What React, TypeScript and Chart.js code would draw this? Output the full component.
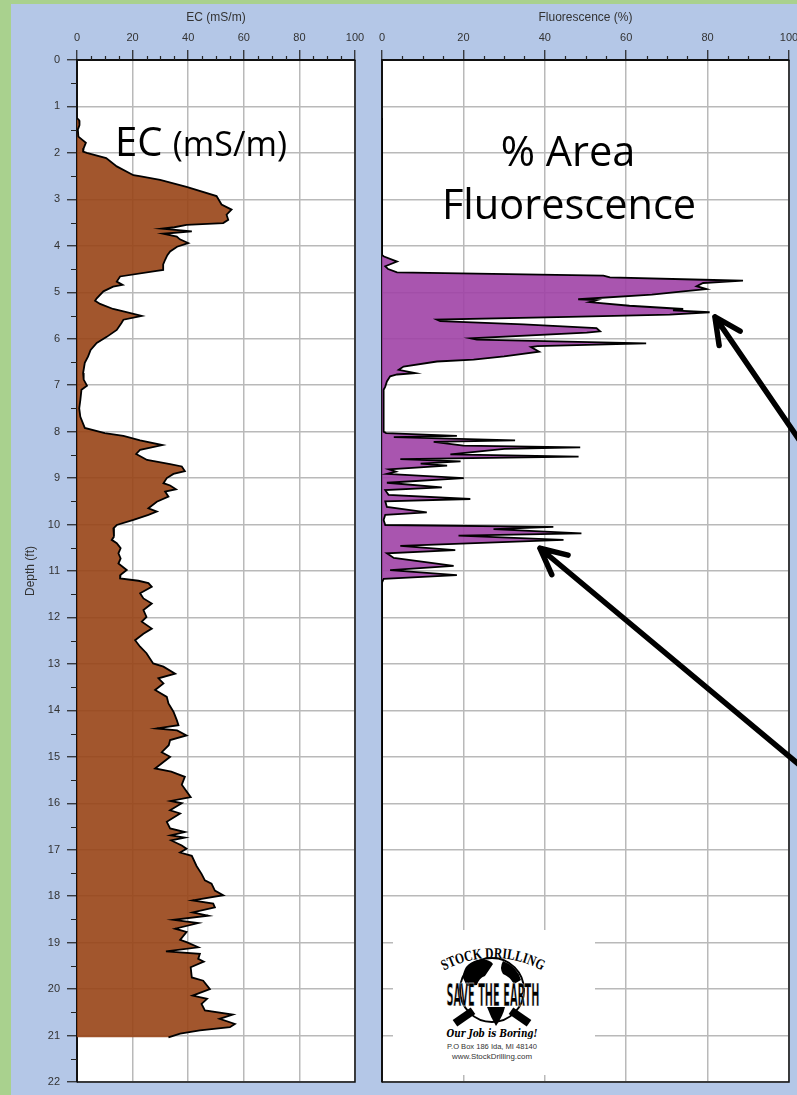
import React, { useEffect, useRef } from 'react';
import { Chart, registerables } from 'chart.js';

Chart.register(...registerables);

// ---------- data ----------
const ecDepth = [
  1.25, 1.3, 1.4, 1.5, 1.65, 1.78, 1.9, 1.97, 2.0, 2.11, 2.29, 2.48, 2.5, 2.58, 2.73, 2.93, 3.11, 3.22, 3.33, 3.44,
  3.51, 3.55, 3.6, 3.63, 3.69, 3.74, 3.8, 3.86, 3.94, 4.02, 4.12, 4.2, 4.3, 4.4, 4.52, 4.54, 4.66, 4.77, 4.84, 4.88,
  4.98, 5.13, 5.18, 5.25, 5.36, 5.41, 5.51, 5.59, 5.66, 5.81, 5.96, 6.09, 6.24, 6.38, 6.52, 6.74, 6.88, 7.01, 7.1, 7.32,
  7.5, 7.68, 7.92, 8.03, 8.09, 8.19, 8.29, 8.39, 8.48, 8.61, 8.7, 8.75, 8.85, 8.91, 9.0, 9.11, 9.16, 9.24, 9.29, 9.4,
  9.51, 9.65, 9.72, 9.79, 9.9, 10.01, 10.08, 10.26, 10.33, 10.4, 10.51, 10.62, 10.73, 10.84, 10.98, 11.08, 11.16, 11.21, 11.26, 11.34,
  11.48, 11.59, 11.7, 11.84, 11.99, 12.09, 12.24, 12.35, 12.49, 12.63, 12.77, 12.99, 13.06, 13.21, 13.31, 13.42, 13.56, 13.71, 13.85, 14.03,
  14.21, 14.32, 14.39, 14.43, 14.54, 14.64, 14.75, 14.9, 15.0, 15.25, 15.32, 15.43, 15.6, 15.87, 15.95, 16.0, 16.15, 16.22, 16.4, 16.54,
  16.62, 16.69, 16.74, 16.8, 16.91, 16.98, 17.06, 17.13, 17.35, 17.52, 17.66, 17.73, 17.88, 17.98, 18.09, 18.16, 18.24, 18.35, 18.42, 18.51,
  18.58, 18.7, 18.77, 18.94, 18.99, 19.1, 19.19, 19.24, 19.35, 19.41, 19.53, 19.75, 19.82, 20.0, 20.14, 20.21, 20.32, 20.46, 20.55, 20.64,
  20.75, 20.82, 20.89, 20.96, 21.04,
];
const ecValue = [
  0, 0.8, 0.9, 0.3, 0.5, 3.2, 2.4, 2.2, 3.5, 10.5, 14.3, 20.3, 22.5, 29.9, 39.4, 50.2, 52, 55.6, 53.8, 54.4,
  52.6, 39.4, 35, 30.5, 41.3, 31, 35.9, 37, 40, 36, 33.5, 32.5, 31.7, 31, 31, 28.7, 15.5, 14.3, 16.4, 13,
  9.5, 7.1, 6.5, 8.3, 13, 16.7, 23.3, 16.7, 16, 14.3, 10.7, 7.1, 4.9, 4, 2.8, 2.2, 2.4, 3.6, 1.6, 1.2,
  0.8, 1.2, 2.8, 10, 16.7, 22.7, 30.7, 22.7, 21.3, 25.2, 33.5, 37.7, 38.8, 34.7, 32.3, 31.1, 33.5, 35.6, 31.7, 32.9,
  28.7, 25.7, 28.7, 25.7, 20.3, 14.3, 13.1, 13.3, 12.5, 14.3, 15.7, 14.9, 15.7, 14.9, 17.9, 15.7, 15.5, 22.1, 25.7, 26.9,
  22.7, 23.9, 26.9, 23.9, 25, 23.3, 26.9, 23.9, 20.9, 22.7, 25, 27.4, 31.1, 35.3, 29.3, 31.1, 28.1, 32.3, 32.9, 34.7,
  35.9, 36.5, 28.7, 36, 39.4, 33.5, 33, 30.5, 33.5, 28.1, 33.9, 38.8, 37.7, 40.9, 33.7, 37.7, 33.5, 37.1, 32.3, 33.5,
  38.8, 33.7, 38.8, 33.9, 37.7, 39.4, 37.1, 41.3, 43, 44.8, 46, 48.4, 49.6, 52.6, 41.6, 49, 49.6, 41.6, 47.2, 34.7,
  43.6, 35.3, 39.4, 37.1, 39.4, 43.6, 32, 44.2, 43.6, 45.6, 40.9, 41.3, 45.4, 47.8, 41.6, 46.8, 44.8, 46, 56, 51.3,
  56.8, 55, 44.2, 37.1, 32.9,
];

const flDepth = [
  1.25, 4.2, 4.23, 4.34, 4.44, 4.5, 4.57, 4.64, 4.68, 4.73, 4.75, 4.8, 4.87, 4.93, 4.98, 5.05, 5.15, 5.17, 5.21, 5.29,
  5.36, 5.39, 5.43, 5.48, 5.53, 5.59, 5.62, 5.69, 5.77, 5.84, 5.87, 5.99, 6.02, 6.1, 6.16, 6.18, 6.28, 6.38, 6.45, 6.49,
  6.6, 6.67, 6.74, 6.77, 6.81, 6.92, 7.03, 7.1, 7.5, 8.0, 8.03, 8.09, 8.12, 8.19, 8.22, 8.3, 8.34, 8.37, 8.49, 8.54,
  8.59, 8.64, 8.69, 8.73, 8.81, 8.86, 8.91, 9.0, 9.1, 9.2, 9.26, 9.36, 9.45, 9.5, 9.62, 9.74, 9.79, 9.9, 10.01, 10.05,
  10.1, 10.19, 10.24, 10.33, 10.46, 10.55, 10.62, 10.72, 10.89, 10.98, 11.09, 11.17, 11.25, 21.05,
];
const flValue = [
  0, 0, 0.5, 3.7, 0.8, 1.5, 3.7, 54.4, 56, 78.9, 88.7, 78.9, 77.3, 79.7, 74, 66.3, 48.2, 52.7, 51, 60.8,
  74, 71.5, 80.5, 70.7, 46, 13.5, 14.3, 34.8, 52.7, 53.6, 50.3, 21.7, 23.3, 64.9, 38.2, 36.6, 38.6, 30, 22.5, 13.5,
  5.3, 4.1, 8.2, 3.7, 2, 1.2, 0.8, 0.4, 0.4, 0.4, 1, 18.4, 2.9, 32.7, 12.7, 20, 48.7, 30.1, 16.8, 48.3,
  4.5, 19.3, 9.5, 16, 1.7, 3.4, 1.2, 20.1, 1.2, 14.7, 0.8, 1.6, 21.7, 0.8, 1.2, 11, 0.8, 0.4, 0.8, 42.1,
  27.4, 49, 18.8, 44.6, 4.5, 18, 1.2, 2.9, 17.6, 2, 18.4, 0.4, 0, 0,
];

const xMin = 0;
const xMax = 100;
const xMajorStep = 20;
const xMinorStep = 5;
const depthMin = 0;
const depthMax = 22;
const depthMajorStep = 1;
const depthMinorStep = 0.5;

// arrows: tip points (fluorescence %, depth ft) and tail points beyond the panel
const arrowTipX = [81.8, 38.8];
const arrowTipY = [5.53, 10.51];
const arrowTailX = [104, 104];
const arrowTailY = [8.37, 15.28];

// ---------- styles ----------
const FONT = '"Liberation Sans", Arial, sans-serif';
const GRID = '#b9b9b9';
const TEXT = '#333333';
const AXIS = '#111111';
const EC_FILL = 'rgba(152,68,22,0.9)';
const FL_FILL = 'rgba(160,67,166,0.9)';

const toPoints = (ds: number[], vs: number[]) => ds.map((d, i) => ({ x: vs[i], y: d }));

const range = (a: number, b: number, s: number) => {
  const out: number[] = [];
  for (let v = a; v <= b + 1e-9; v += s) out.push(Math.round(v * 1000) / 1000);
  return out;
};

const whiteArea = {
  id: 'whiteArea',
  beforeDraw(chart: any) {
    const { ctx, chartArea: a } = chart;
    ctx.save();
    ctx.fillStyle = '#ffffff';
    ctx.fillRect(a.left, a.top, a.right - a.left, a.bottom - a.top);
    ctx.restore();
  },
};

const makeFrame = (withYMinor: boolean) => ({
  id: 'frameMinor',
  afterDatasetsDraw(chart: any) {
    const { ctx, chartArea: a, scales } = chart;
    ctx.save();
    ctx.strokeStyle = AXIS;
    ctx.lineWidth = 1.5;
    ctx.beginPath();
    ctx.moveTo(a.right, a.top);
    ctx.lineTo(a.right, a.bottom);
    ctx.lineTo(a.left, a.bottom);
    ctx.stroke();
    ctx.lineWidth = 1.2;
    ctx.strokeStyle = '#222';
    ctx.beginPath();
    range(xMin, xMax, xMinorStep).forEach((v) => {
      if (Math.abs(v % xMajorStep) < 1e-6) return;
      const px = Math.round(scales.x.getPixelForValue(v)) + 0.5;
      ctx.moveTo(px, a.top - 4);
      ctx.lineTo(px, a.top);
    });
    if (withYMinor) {
      range(depthMin, depthMax, depthMinorStep).forEach((v) => {
        if (Math.abs(v % depthMajorStep) < 1e-6) return;
        const py = Math.round(scales.y.getPixelForValue(v)) + 0.5;
        ctx.moveTo(a.left - 6, py);
        ctx.lineTo(a.left, py);
      });
    }
    ctx.stroke();
    ctx.restore();
  },
});

const arrows = {
  id: 'arrows',
  afterDraw(chart: any) {
    const { ctx, scales } = chart;
    ctx.save();
    ctx.strokeStyle = '#000';
    ctx.lineWidth = 5.5;
    ctx.lineCap = 'round';
    ctx.lineJoin = 'round';
    arrowTipX.forEach((_, i) => {
      const tx = scales.x.getPixelForValue(arrowTipX[i]);
      const ty = scales.y.getPixelForValue(arrowTipY[i]);
      const ex = scales.x.getPixelForValue(arrowTailX[i]);
      const ey = scales.y.getPixelForValue(arrowTailY[i]);
      const ang = Math.atan2(ey - ty, ex - tx);
      const spread = (26 * Math.PI) / 180;
      const len = 29;
      ctx.beginPath();
      ctx.moveTo(ex, ey);
      ctx.lineTo(tx, ty);
      ctx.moveTo(tx + len * Math.cos(ang - spread), ty + len * Math.sin(ang - spread));
      ctx.lineTo(tx, ty);
      ctx.lineTo(tx + len * Math.cos(ang + spread), ty + len * Math.sin(ang + spread));
      ctx.stroke();
    });
    ctx.restore();
  },
};

const xScale = (title: string) => ({
  type: 'linear',
  position: 'top',
  min: xMin,
  max: xMax,
  ticks: { stepSize: xMajorStep, autoSkip: false, padding: 5, color: TEXT, font: { family: FONT, size: 11 } },
  grid: { color: GRID, lineWidth: 1.5, tickLength: 10, tickColor: '#222', tickWidth: 1.2, drawTicks: true },
  border: { display: true, color: AXIS, width: 2 },
  title: { display: true, text: title, color: TEXT, font: { family: FONT, size: 12 }, padding: { top: 4, bottom: 4 } },
  afterFit: (s: any) => {
    s.height = 54;
    s.paddingLeft = 0;
    s.paddingRight = 0;
  },
});

const dataset = (ds: number[], vs: number[], fillColor: string) => ({
  data: toPoints(ds, vs),
  borderColor: '#000',
  borderWidth: 1.8,
  backgroundColor: fillColor,
  fill: 'origin',
  pointRadius: 0,
  tension: 0,
});

export default function App() {
  const leftRef = useRef<HTMLCanvasElement>(null);
  const rightRef = useRef<HTMLCanvasElement>(null);

  useEffect(() => {
    const left = new Chart(leftRef.current as HTMLCanvasElement, {
      type: 'line',
      data: { datasets: [dataset(ecDepth, ecValue, EC_FILL)] },
      options: {
        indexAxis: 'y',
        responsive: false,
        animation: false,
        devicePixelRatio: 1,
        layout: { padding: { left: 19, top: 6, right: 442, bottom: 13 } },
        plugins: { legend: { display: false }, tooltip: { enabled: false } },
        scales: {
          x: xScale('EC (mS/m)'),
          y: {
            type: 'linear',
            position: 'left',
            reverse: true,
            min: depthMin,
            max: depthMax,
            ticks: { stepSize: depthMajorStep, autoSkip: false, padding: 7, color: TEXT, font: { family: FONT, size: 11 } },
            grid: { color: GRID, lineWidth: 1.5, tickLength: 10, tickColor: '#222', tickWidth: 1.2 },
            border: { display: true, color: AXIS, width: 2 },
            title: { display: true, text: 'Depth (ft)', color: TEXT, font: { family: FONT, size: 12 }, padding: { top: 4, bottom: 4 } },
            afterFit: (s: any) => {
              s.width = 58;
              s.paddingTop = 0;
              s.paddingBottom = 0;
            },
          },
        },
      } as any,
      plugins: [whiteArea, makeFrame(true)],
    });

    const right = new Chart(rightRef.current as HTMLCanvasElement, {
      type: 'line',
      data: { datasets: [dataset(flDepth, flValue, FL_FILL)] },
      options: {
        indexAxis: 'y',
        responsive: false,
        animation: false,
        devicePixelRatio: 1,
        layout: { padding: { left: 382, top: 6, right: 8, bottom: 13 } },
        plugins: { legend: { display: false }, tooltip: { enabled: false } },
        scales: {
          x: xScale('Fluorescence (%)'),
          y: {
            type: 'linear',
            position: 'left',
            reverse: true,
            min: depthMin,
            max: depthMax,
            ticks: { display: false, stepSize: depthMajorStep, autoSkip: false },
            grid: { color: GRID, lineWidth: 1.5, drawTicks: false },
            border: { display: true, color: AXIS, width: 2 },
            afterFit: (s: any) => {
              s.width = 0;
              s.paddingTop = 0;
              s.paddingBottom = 0;
            },
          },
        },
      } as any,
      plugins: [whiteArea, makeFrame(false), arrows],
    });

    return () => {
      left.destroy();
      right.destroy();
    };
  }, []);

  const abs: React.CSSProperties = { position: 'absolute', left: 0, top: 0 };

  return (
    <div style={{ position: 'absolute', left: 0, top: 0, width: 797, height: 1095, overflow: 'hidden', background: '#a9d18e' }}>
      <div style={{ position: 'absolute', left: 11, top: 4, right: 0, bottom: 0, background: '#b4c7e7' }} />
      <canvas ref={leftRef} width={797} height={1095} style={abs} />
      <canvas ref={rightRef} width={797} height={1095} style={abs} />

      <div
        style={{
          position: 'absolute',
          left: 115,
          top: 121,
          fontFamily: '"Open Sans", sans-serif',
          fontSize: 40,
          lineHeight: '40px',
          color: '#000',
          whiteSpace: 'nowrap',
        }}
      >
        EC <span style={{ fontSize: 34 }}>(mS/m)</span>
      </div>
      <div
        style={{
          position: 'absolute',
          left: 368,
          width: 400,
          top: 130,
          textAlign: 'center',
          fontFamily: '"Open Sans", sans-serif',
          fontSize: 41.5,
          lineHeight: '41.5px',
          color: '#000',
        }}
      >
        % Area
      </div>
      <div
        style={{
          position: 'absolute',
          left: 369,
          width: 400,
          top: 183,
          textAlign: 'center',
          fontFamily: '"Open Sans", sans-serif',
          fontSize: 41.5,
          lineHeight: '41.5px',
          color: '#000',
        }}
      >
        Fluorescence
      </div>

      <div style={{ position: 'absolute', left: 393, top: 930, width: 202, height: 145, background: '#fff' }}>
        <svg width="202" height="145" viewBox="0 0 202 145">
          <defs>
            <path id="logoArc" d="M 20 66.7 A 102 102 0 0 1 180 66.7" />
          </defs>
          <text fontFamily='"Liberation Serif", serif' fontWeight="bold" fontSize="15" fill="#000" textAnchor="middle">
            <textPath href="#logoArc" startOffset="50%" textLength="102" lengthAdjust="spacingAndGlyphs">
              STOCK DRILLING
            </textPath>
          </text>
          <circle cx="99" cy="60" r="32" fill="#fff" stroke="#000" strokeWidth="2" />
          <path d="M70 48 Q70 34 84 30 Q96 28 100 34 Q96 40 92 46 Q86 48 84 55 L74 56 Z" fill="#000" />
          <path d="M110 31 Q124 36 128 50 L121 54 Q116 46 110 44 Q106 38 110 31 Z" fill="#000" />
          <path d="M94 77 L112 77 Q110 86 103 96 Q98 88 94 77 Z" fill="#000" />
          <text
            x="100"
            y="76"
            textAnchor="middle"
            fontFamily='"DejaVu Sans Condensed", "DejaVu Sans", sans-serif'
            fontWeight="bold"
            fontSize="32"
            textLength="93"
            lengthAdjust="spacingAndGlyphs"
            fill="#000"
            stroke="#fff"
            strokeWidth="0.6"
          >
            SAVE THE EARTH
          </text>
          <rect x="60" y="83" width="22" height="8" fill="#000" transform="rotate(-35 71 87)" />
          <rect x="116" y="83" width="22" height="8" fill="#000" transform="rotate(35 127 87)" />
          <text
            x="99"
            y="107"
            textAnchor="middle"
            fontFamily='"DejaVu Serif", serif'
            fontWeight="bold"
            fontStyle="italic"
            fontSize="11"
            textLength="91"
            lengthAdjust="spacingAndGlyphs"
            fill="#000"
          >
            Our Job is Boring!
          </text>
          <text x="99" y="119" textAnchor="middle" fontFamily={FONT} fontSize="7" textLength="90" lengthAdjust="spacingAndGlyphs" fill="#333">
            P.O Box 186 Ida, MI 48140
          </text>
          <text x="99" y="129" textAnchor="middle" fontFamily={FONT} fontSize="6.5" textLength="80" lengthAdjust="spacingAndGlyphs" fill="#333">
            www.StockDrilling.com
          </text>
        </svg>
      </div>
    </div>
  );
}
